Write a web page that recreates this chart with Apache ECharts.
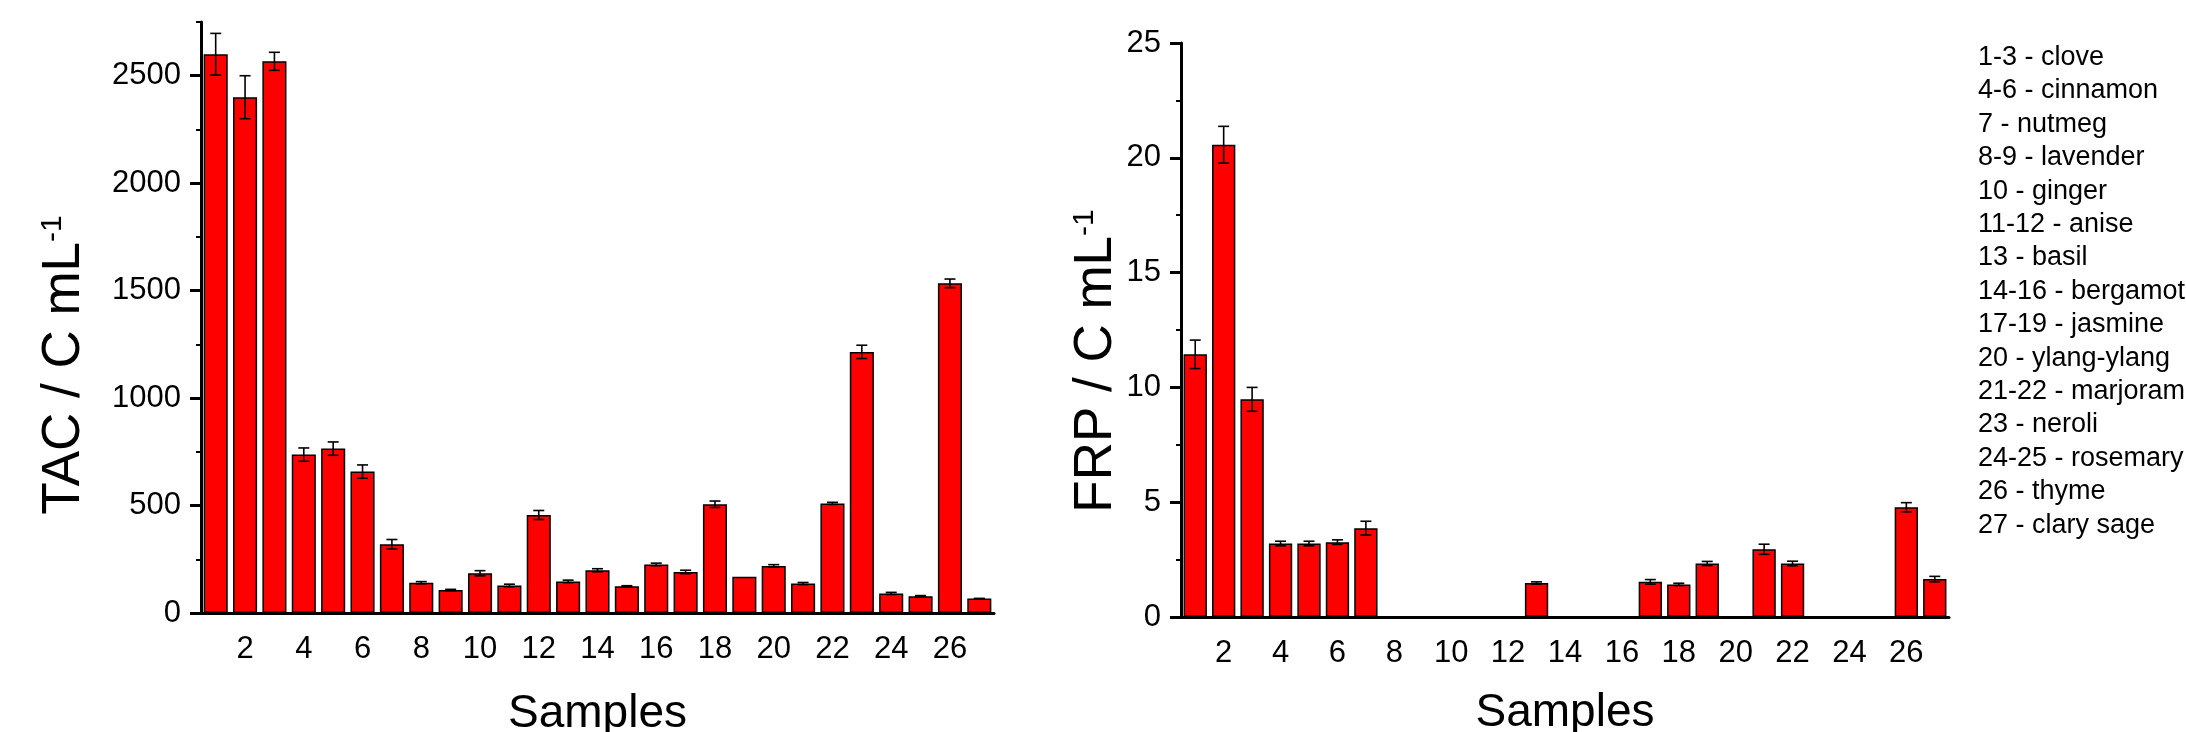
<!DOCTYPE html>
<html>
<head>
<meta charset="utf-8">
<script src="https://cdn.jsdelivr.net/npm/echarts@6/dist/echarts.min.js"></script>
<style>
  html, body { margin: 0; padding: 0; background: #fff; }
  #chart { width: 2186px; height: 732px; }
</style>
</head>
<body>
<div id="chart"></div>
<script>
const samples = ['1','2','3','4','5','6','7','8','9','10','11','12','13','14','15','16','17','18','19','20','21','22','23','24','25','26','27'];

const tac = [2600, 2400, 2567, 737, 765, 658, 320, 141, 107, 185, 128, 456, 147, 199, 124, 226, 191, 506, 169, 219, 137, 510, 1215, 91, 78, 1534, 67];
const tacErr = [97, 100, 42, 31, 31, 31, 22, 5, 3, 12, 6, 21, 6, 7, 3, 6, 8, 15, 0, 6, 5, 5, 31, 5, 3, 20, 1];

const frp = [11.44, 20.57, 9.48, 3.2, 3.2, 3.26, 3.87, 0, 0, 0, 0, 0, 1.48, 0, 0, 0, 1.53, 1.42, 2.33, 0, 2.95, 2.33, 0, 0, 0, 4.78, 1.65];
const frpErr = [0.62, 0.8, 0.52, 0.1, 0.1, 0.1, 0.3, 0, 0, 0, 0, 0, 0.05, 0, 0, 0, 0.1, 0.05, 0.09, 0, 0.22, 0.1, 0, 0, 0, 0.2, 0.12];

const tacTicks = [0, 500, 1000, 1500, 2000, 2500];
const tacMinor = [250, 750, 1250, 1750, 2250, 2750];
const frpTicks = [0, 5, 10, 15, 20, 25];
const frpMinor = [2.5, 7.5, 12.5, 17.5, 22.5];

const legendLines = [
  '1-3 - clove', '4-6 - cinnamon', '7 - nutmeg', '8-9 - lavender', '10 - ginger',
  '11-12 - anise', '13 - basil', '14-16 - bergamot', '17-19 - jasmine', '20 - ylang-ylang',
  '21-22 - marjoram', '23 - neroli', '24-25 - rosemary', '26 - thyme', '27 - clary sage'
];

const font = 'Liberation Sans, Arial, sans-serif';

const chart = echarts.init(document.getElementById('chart'), null, { renderer: 'canvas' });

function xAxisFor(gridIndex, gap) {
  const even = (idx) => idx % 2 === 1;
  return {
    type: 'category',
    gridIndex: gridIndex,
    data: samples,
    boundaryGap: true,
    name: 'Samples',
    nameLocation: 'middle',
    nameGap: gap,
    nameTextStyle: { color: '#000', fontSize: 46, fontFamily: font },
    axisLine: { lineStyle: { color: '#000', width: 3 } },
    axisTick: { alignWithLabel: true, interval: even, length: 12, lineStyle: { color: '#000', width: 3 } },
    axisLabel: { interval: even, margin: 21, color: '#000', fontSize: 31, fontFamily: font },
    splitLine: { show: false }
  };
}

function yAxisFor(gridIndex, max, ticks, title, gap, shift) {
  return {
    type: 'value',
    gridIndex: gridIndex,
    position: 'left',
    min: 0,
    max: max,
    name: title + '{sup|-1}',
    nameLocation: 'middle',
    nameRotate: 90,
    nameGap: gap,
    nameTextStyle: {
      color: '#000', fontSize: 53, fontFamily: font,
      padding: [0, shift, 0, 0],
      rich: { sup: { fontSize: 30, fontFamily: font, color: '#000', verticalAlign: 'top', padding: [0, 0, 22, 0] } }
    },
    axisLine: { show: true, lineStyle: { color: '#000', width: 3 } },
    axisTick: { show: true, customValues: ticks, length: 11, lineStyle: { color: '#000', width: 3 } },
    axisLabel: {
      customValues: ticks, margin: 20, color: '#000', fontSize: 31, fontFamily: font,
      formatter: (v) => String(v)
    },
    splitLine: { show: false }
  };
}

function minorAxisFor(gridIndex, max, minor) {
  return {
    type: 'value',
    gridIndex: gridIndex,
    position: 'left',
    min: 0,
    max: max,
    axisLine: { show: false },
    axisTick: { show: true, customValues: minor, length: 5, lineStyle: { color: '#000', width: 2 } },
    axisLabel: { show: false },
    splitLine: { show: false }
  };
}

function errorSeries(xi, yi, values, errs) {
  return {
    type: 'custom',
    xAxisIndex: xi,
    yAxisIndex: yi,
    data: values.map((v, i) => [i, v, errs[i]]),
    z: 10,
    renderItem: function (params, api) {
      const x = api.value(0);
      const v = api.value(1);
      const e = api.value(2);
      if (!e) return null;
      const hi = api.coord([x, v + e]);
      const lo = api.coord([x, v - e]);
      const hw = 5.5;
      const style = { stroke: '#000', lineWidth: 1.6 };
      return {
        type: 'group',
        children: [
          { type: 'line', shape: { x1: hi[0], y1: hi[1], x2: lo[0], y2: lo[1] }, style: style },
          { type: 'line', shape: { x1: hi[0] - hw, y1: hi[1], x2: hi[0] + hw, y2: hi[1] }, style: style },
          { type: 'line', shape: { x1: lo[0] - hw, y1: lo[1], x2: lo[0] + hw, y2: lo[1] }, style: style }
        ]
      };
    }
  };
}

const barStyle = { color: '#ff0000', borderColor: '#000', borderWidth: 1.5 };

const option = {
  animation: false,
  textStyle: { fontFamily: font },
  grid: [
    { left: 201, right: 1192, top: 22, bottom: 119, outerBoundsMode: 'none' },
    { left: 1181, right: 237, top: 43, bottom: 115, outerBoundsMode: 'none' }
  ],
  xAxis: [xAxisFor(0, 78), xAxisFor(1, 73)],
  yAxis: [
    yAxisFor(0, 2750, tacTicks, 'TAC / C mL', 110, 95),
    minorAxisFor(0, 2750, tacMinor),
    yAxisFor(1, 25, frpTicks, 'FRP / C mL', 52, 62),
    minorAxisFor(1, 25, frpMinor)
  ],
  series: [
    { type: 'bar', xAxisIndex: 0, yAxisIndex: 0, data: tac, barCategoryGap: '18%', itemStyle: barStyle },
    errorSeries(0, 0, tac, tacErr),
    { type: 'bar', xAxisIndex: 1, yAxisIndex: 2, data: frp, barCategoryGap: '18%', itemStyle: barStyle },
    errorSeries(1, 2, frp, frpErr)
  ],
  graphic: legendLines.map((t, i) => ({
    type: 'text',
    left: 1978,
    top: 44 + i * 33.4,
    style: { text: t, fill: '#000', fontSize: 27, fontFamily: font }
  }))
};

chart.setOption(option);
</script>
</body>
</html>
